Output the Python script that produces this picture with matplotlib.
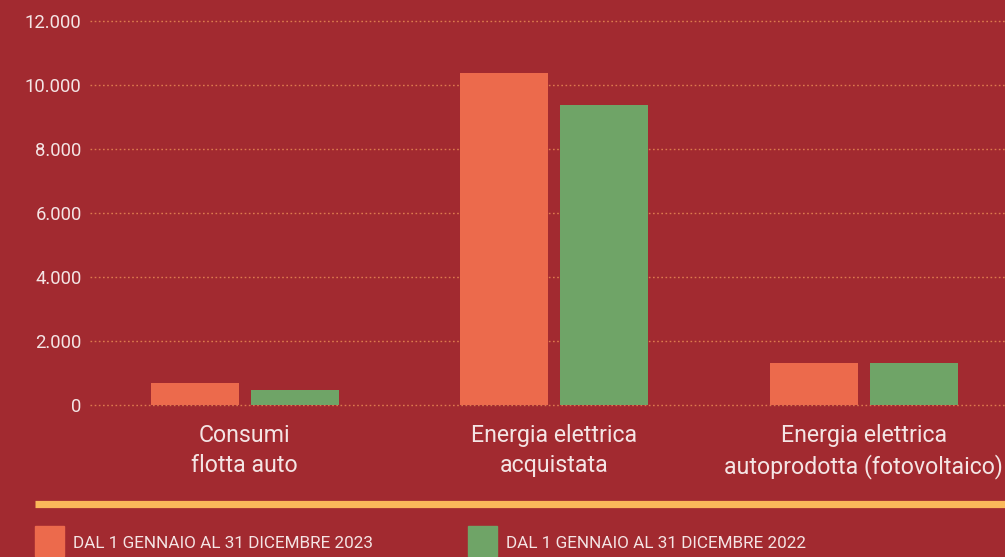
import matplotlib.pyplot as plt
import numpy as np
from matplotlib.lines import Line2D
from matplotlib.patches import Rectangle

# Dati
categorie = ['Consumi\nflotta auto', 'Energia elettrica\nacquistata',
             'Energia elettrica\nautoprodotta (fotovoltaico)']
valori_2023 = [690, 10380, 1310]
valori_2022 = [470, 9380, 1310]
etichette_y = ['0', '2.000', '4.000', '6.000', '8.000', '10.000', '12.000']
valori_y = [0, 2000, 4000, 6000, 8000, 10000, 12000]
legenda = ['DAL 1 GENNAIO AL 31 DICEMBRE 2023', 'DAL 1 GENNAIO AL 31 DICEMBRE 2022']

sfondo = '#A22A30'
arancio = '#EC6A4C'
verde = '#6FA467'
testo = '#F4E4E4'
giallo = '#FBB85A'

plt.rcParams['font.family'] = ['Roboto', 'DejaVu Sans']

W, H = 1005, 557
fig = plt.figure(figsize=(W / 100, H / 100), dpi=100, facecolor=sfondo)
ax = fig.add_axes([90 / W, (H - 410) / H, (W - 90) / W, 395 / H])
ax.set_facecolor(sfondo)

x = np.arange(len(categorie))
larghezza = 0.284
offset = 0.1616
ax.bar(x - offset, valori_2023, larghezza, color=arancio, zorder=3)
ax.bar(x + offset, valori_2022, larghezza, color=verde, zorder=3)

ax.set_xlim(-0.5, 2.456)
ax.set_ylim(-156, 12187)
ax.set_yticks(valori_y)
ax.set_yticklabels(etichette_y, color=testo, fontsize=13.3)
ax.set_xticks(x)
ax.set_xticklabels(categorie, color=testo, fontsize=16.7, linespacing=1.38)
ax.tick_params(axis='both', length=0)
ax.tick_params(axis='y', pad=6)
ax.tick_params(axis='x', pad=10)
ax.grid(axis='y', color='#DC7A4E', linestyle=(0, (1.2, 1.8)), linewidth=1, zorder=1)
for s in ax.spines.values():
    s.set_visible(False)

# Linea gialla
fig.add_artist(Line2D([35 / W, 1], [(H - 503.5) / H] * 2, color=giallo, linewidth=5.2,
                      solid_capstyle='butt'))

# Legenda
for i, (lab, col) in enumerate(zip(legenda, [arancio, verde])):
    x0 = [35, 468][i]
    fig.add_artist(Rectangle((x0 / W, (H - 556) / H), 29 / W, 30 / H,
                             transform=fig.transFigure, color=col))
    fig.text((x0 + 38) / W, (H - 543) / H, lab, color=testo, fontsize=12.3, va='center')

plt.savefig('out.png', dpi=100, facecolor=sfondo)
